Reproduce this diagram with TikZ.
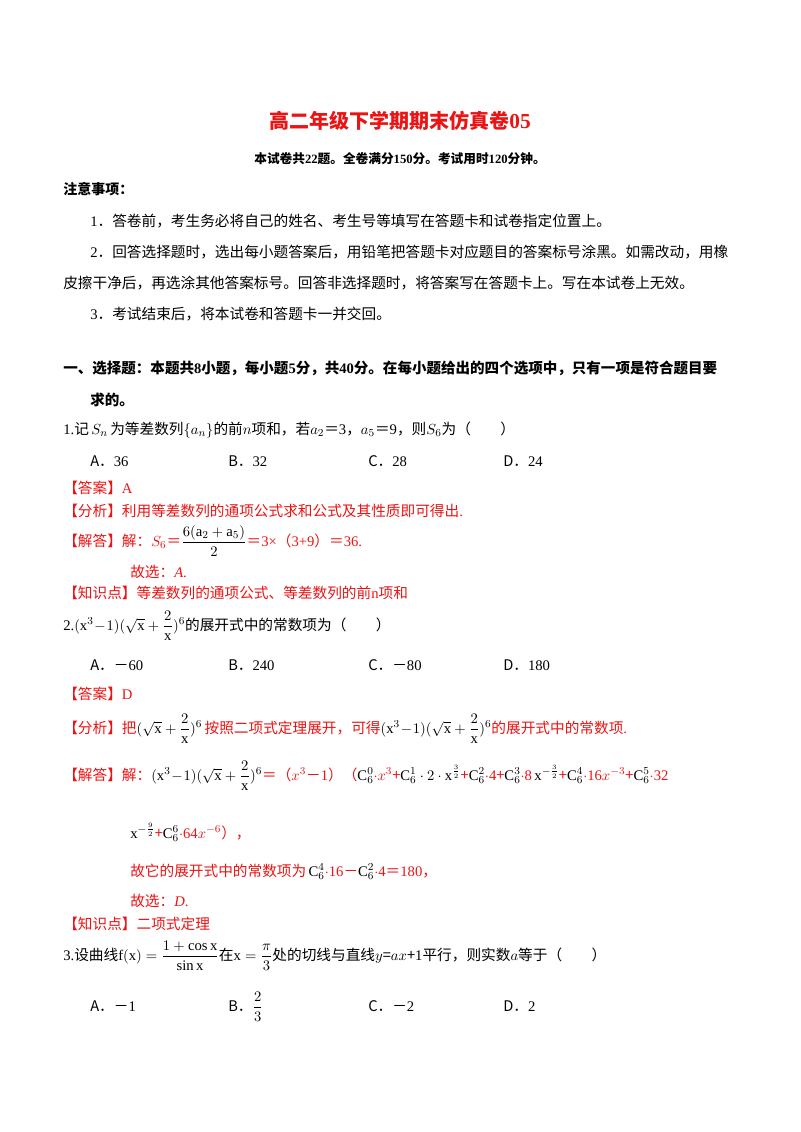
\documentclass[tikz,border=0pt]{standalone}
\usepackage{fontspec}
\usepackage{amsmath}
\setmainfont{Liberation Serif}
\newfontfamily\cjk{Noto Sans CJK SC}
\newcommand{\lt}[1]{{\rmfamily #1}}
\definecolor{rd}{RGB}{235,20,20}
\begin{document}
\begin{tikzpicture}[x=0.75pt,y=-0.75pt,
  t/.style={anchor=base west,inner sep=0pt,font=\cjk\fontsize{11}{13}\selectfont},
  r/.style={t,text=rd}]
\useasboundingbox[fill=white] (0,0) rectangle (800,1132);
\node[anchor=base,inner sep=0pt,text=rd,font=\cjk\bfseries\fontsize{15}{18}\selectfont] (title) at (400,128) {高二年级下学期期末仿真卷\lt{\fontsize{16}{18}\selectfont 05}};
\node[anchor=base,inner sep=0pt,font=\cjk\bfseries\fontsize{9.5}{11}\selectfont] (sub) at (400,163) {本试卷共\lt{22}题。全卷满分\lt{150}分。考试用时\lt{120}分钟。};
\node[t,font=\cjk\bfseries\fontsize{10.5}{12}\selectfont] (zy) at (63,194) {注意事项：};
\node[t] (n1) at (90,226) {\lt{1}．答卷前，考生务必将自己的姓名、考生号等填写在答题卡和试卷指定位置上。};
\node[t] (n2) at (90,257) {\lt{2}．回答选择题时，选出每小题答案后，用铅笔把答题卡对应题目的答案标号涂黑。如需改动，用橡};
\node[t] (n2b) at (63,288) {皮擦干净后，再选涂其他答案标号。回答非选择题时，将答案写在答题卡上。写在本试卷上无效。};
\node[t] (n3) at (90,319) {\lt{3}．考试结束后，将本试卷和答题卡一并交回。};
\node[t,font=\cjk\bfseries\fontsize{10.9}{12}\selectfont] (s1) at (63,373) {一、选择题：本题共\lt{8}小题，每小题\lt{5}分，共\lt{40}分。在每小题给出的四个选项中，只有一项是符合题目要};
\node[t,font=\cjk\bfseries\fontsize{10.9}{12}\selectfont] (s1b) at (90,405) {求的。};
\node[t] (q1) at (63,434) {\lt{1.}记\,$S_n$\,为等差数列$\{a_n\}$的前$n$项和，若$a_2$＝\lt{3}，$a_5$＝\lt{9}，则$S_6$为（　　）};
\node[t] (q1a) at (90,466) {A．\lt{36}};
\node[t] (q1b) at (228,466) {B．\lt{32}};
\node[t] (q1c) at (368,466) {C．\lt{28}};
\node[t] (q1d) at (503,466) {D．\lt{24}};
\node[r] (a1) at (63,493) {【答案】\lt{A}};
\node[r] (f1) at (63,516) {【分析】利用等差数列的通项公式求和公式及其性质即可得出\lt{.}};
\node[r] (j1) at (63,546) {【解答】解：$S_6$＝\textcolor{black}{$\dfrac{6(\mathrm{a}_2+\mathrm{a}_5)}{2}$}＝\lt{3×}（\lt{3+9}）＝\lt{36.}};
\node[r] (g1) at (130,577) {故选：\lt{\textit{A}.}};
\node[r] (k1) at (63,598) {【知识点】等差数列的通项公式、等差数列的前\lt{n}项和};
\node[t] (q2) at (63,630) {\lt{2.}$(\mathrm{x}^3\!-\!1)(\sqrt{\mathrm{x}}+\dfrac{2}{\mathrm{x}})^6$的展开式中的常数项为（　　）};
\node[t] (q2a) at (90,670) {A．－\lt{60}};
\node[t] (q2b) at (228,670) {B．\lt{240}};
\node[t] (q2c) at (368,670) {C．－\lt{80}};
\node[t] (q2d) at (503,670) {D．\lt{180}};
\node[r] (a2) at (63,699) {【答案】\lt{D}};
\node[r] (f2) at (63,733) {【分析】把\textcolor{black}{$(\sqrt{\mathrm{x}}+\dfrac{2}{\mathrm{x}})^{6}$}\,按照二项式定理展开，可得\textcolor{black}{$(\mathrm{x}^3\!-\!1)(\sqrt{\mathrm{x}}+\dfrac{2}{\mathrm{x}})^6$}的展开式中的常数项\lt{.}};
\node[r] (j2) at (63,780) {【解答】解：\textcolor{black}{$(\mathrm{x}^3\!-\!1)(\sqrt{\mathrm{x}}+\dfrac{2}{\mathrm{x}})^6$}＝（$x^3$－\lt{1}）（\textcolor{black}{$\mathrm{C}_6^0$}$\cdot x^3$+\textcolor{black}{$\mathrm{C}_6^1\cdot2\cdot\mathrm{x}^{\frac32}$}+\textcolor{black}{$\mathrm{C}_6^2$}$\cdot$\lt{4}+\textcolor{black}{$\mathrm{C}_6^3$}$\cdot$\lt{8}\,\textcolor{black}{$\mathrm{x}^{-\frac32}$}+\textcolor{black}{$\mathrm{C}_6^4$}$\cdot$\lt{16}$x^{-3}$+\textcolor{black}{$\mathrm{C}_6^5$}$\cdot$\lt{32}};
\node[r] (j2b) at (130,838) {\textcolor{black}{$\mathrm{x}^{-\frac92}$}+\textcolor{black}{$\mathrm{C}_6^6$}$\cdot$\lt{64}$x^{-6}$），};
\node[r] (j2c) at (130,876) {故它的展开式中的常数项为\,\textcolor{black}{$\mathrm{C}_6^4$}$\cdot$\lt{16}－\textcolor{black}{$\mathrm{C}_6^2$}$\cdot$\lt{4}＝\lt{180}，};
\node[r] (g2) at (130,906) {故选：\lt{\textit{D}.}};
\node[r] (k2) at (63,929) {【知识点】二项式定理};
\node[t] (q3) at (63,960) {\lt{3.}设曲线$\mathrm{f(x)}=\dfrac{1+\cos\mathrm{x}}{\sin\mathrm{x}}$在$\mathrm{x}=\dfrac{\pi}{3}$处的切线与直线$y$=$ax$+\lt{1}平行，则实数$a$等于（　　）};
\node[t] (q3a) at (90,1011) {A．－\lt{1}};
\node[t] (q3b) at (228,1011) {B．$\dfrac{2}{3}$};
\node[t] (q3c) at (368,1011) {C．－\lt{2}};
\node[t] (q3d) at (503,1011) {D．\lt{2}};
\end{tikzpicture}
\end{document}
